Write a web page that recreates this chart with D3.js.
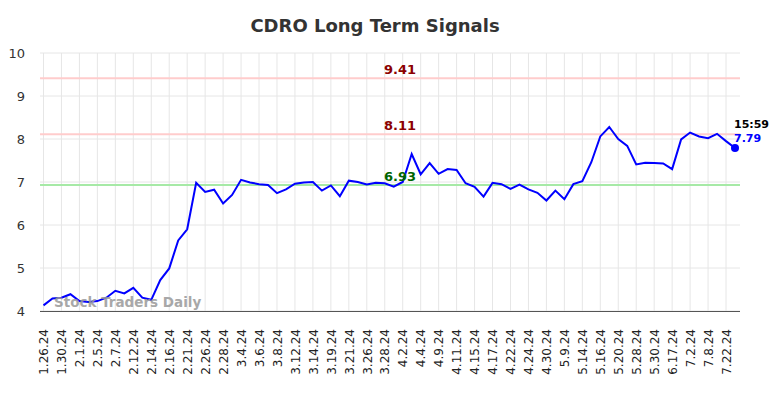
<!DOCTYPE html>
<html>
<head>
    <script src="https://d3js.org/d3.v7.min.js"></script>
    <style>
        body { margin: 0; background: #fff; }
        text { font-family: "DejaVu Sans", sans-serif; }
    </style>
</head>
<body>
    <div id="chart"></div>

    <script>
        // tick labels, one for every second point
        const tickLabels = ["1.26.24", "1.30.24", "2.1.24", "2.5.24", "2.7.24", "2.12.24", "2.14.24",
            "2.16.24", "2.21.24", "2.26.24", "2.28.24", "3.4.24", "3.6.24", "3.8.24", "3.12.24",
            "3.14.24", "3.19.24", "3.21.24", "3.26.24", "3.28.24", "4.2.24", "4.4.24", "4.9.24",
            "4.11.24", "4.15.24", "4.17.24", "4.22.24", "4.24.24", "4.30.24", "5.9.24", "5.14.24",
            "5.16.24", "5.20.24", "5.28.24", "5.30.24", "6.17.24", "7.2.24", "7.8.24", "7.22.24"];

        // closing values
        const prices = [4.13, 4.29, 4.31, 4.39, 4.23, 4.21, 4.23, 4.31, 4.47, 4.41,
            4.54, 4.31, 4.26, 4.72, 4.99, 5.64, 5.90, 6.98, 6.77, 6.82,
            6.50, 6.70, 7.05, 6.99, 6.95, 6.93, 6.74, 6.83, 6.96, 6.99,
            7.00, 6.80, 6.92, 6.67, 7.03, 7.00, 6.94, 6.98, 6.97, 6.89,
            7.00, 7.65, 7.18, 7.44, 7.19, 7.30, 7.28, 6.97, 6.89, 6.66,
            6.98, 6.95, 6.84, 6.94, 6.83, 6.75, 6.57, 6.80, 6.60, 6.95,
            7.02, 7.46, 8.06, 8.28, 8.00, 7.84, 7.41, 7.45, 7.44, 7.43,
            7.30, 7.99, 8.15, 8.06, 8.02, 8.12, 7.95, 7.79];

        const yTicks = [4, 5, 6, 7, 8, 9, 10];

        // signal levels
        const signalValues = [9.41, 8.11, 6.93];
        const signalColors = ["#ffcccc", "#ffcccc", "#a6e9a6"];
        const signalTextColors = ["#8b0000", "#8b0000", "#006400"];

        const lastTime = "15:59";
        const title = "CDRO Long Term Signals";
        const watermark = "Stock Traders Daily";

        const width = 784, height = 398;
        const plotLeft = 40, plotRight = 740, plotTop = 53, plotBottom = 311;

        const svg = d3.select("#chart").append("svg")
            .attr("width", width)
            .attr("height", height);

        const x = d3.scalePoint()
            .domain(d3.range(prices.length))
            .range([43.5, 735]);

        const y = d3.scaleLinear()
            .domain([4, 10])
            .range([plotBottom, plotTop]);

        // title
        svg.append("text")
            .attr("x", 375)
            .attr("y", 32)
            .attr("text-anchor", "middle")
            .attr("font-size", 18)
            .attr("font-weight", "bold")
            .attr("fill", "#333")
            .text(title);

        // grid
        const tickIdx = tickLabels.map((d, i) => i * 2);
        svg.append("g").selectAll("line")
            .data(tickIdx)
            .join("line")
            .attr("x1", d => x(d)).attr("x2", d => x(d))
            .attr("y1", plotTop).attr("y2", plotBottom)
            .attr("stroke", "#e6e6e6");

        svg.append("g").selectAll("line")
            .data(yTicks)
            .join("line")
            .attr("x1", plotLeft).attr("x2", plotRight)
            .attr("y1", d => y(d)).attr("y2", d => y(d))
            .attr("stroke", "#e6e6e6");

        // y axis labels
        svg.append("g").selectAll("text")
            .data(yTicks)
            .join("text")
            .attr("x", 25)
            .attr("y", d => y(d) + 4.5)
            .attr("text-anchor", "end")
            .attr("font-size", 13)
            .attr("fill", "#333")
            .text(d => d);

        // x axis
        const xAxis = svg.append("g")
            .attr("transform", `translate(0,${plotBottom})`)
            .call(d3.axisBottom(x)
                .tickValues(tickIdx)
                .tickFormat(d => tickLabels[d / 2])
                .tickSize(0));
        xAxis.select(".domain")
            .attr("d", `M${plotLeft},0.5H${plotRight}`)
            .attr("stroke", "#555");
        xAxis.selectAll("text")
            .attr("transform", "rotate(-90)")
            .attr("text-anchor", "end")
            .attr("x", -18)
            .attr("y", 0)
            .attr("dy", "0.35em")
            .attr("font-family", "DejaVu Sans")
            .attr("font-size", 12)
            .attr("fill", "#222");

        // signal lines
        svg.append("g").selectAll("line")
            .data(signalValues)
            .join("line")
            .attr("x1", plotLeft).attr("x2", plotRight)
            .attr("y1", d => y(d)).attr("y2", d => y(d))
            .attr("stroke", (d, i) => signalColors[i])
            .attr("stroke-width", 2);

        // price line
        const line = d3.line()
            .x((d, i) => x(i))
            .y(d => y(d));

        svg.append("path")
            .datum(prices)
            .attr("d", line)
            .attr("fill", "none")
            .attr("stroke", "#0000ff")
            .attr("stroke-width", 2);

        // signal labels
        svg.append("g").selectAll("text")
            .data(signalValues)
            .join("text")
            .attr("x", 400)
            .attr("y", d => y(d) - 4)
            .attr("text-anchor", "middle")
            .attr("font-size", 13)
            .attr("font-weight", "bold")
            .attr("fill", (d, i) => signalTextColors[i])
            .text(d => d.toFixed(2));

        // watermark
        svg.append("text")
            .attr("x", 54)
            .attr("y", 307)
            .attr("font-size", 13.5)
            .attr("font-weight", "bold")
            .attr("fill", "#999")
            .attr("opacity", 0.85)
            .text(watermark);

        const lastI = prices.length - 1;
        svg.append("circle")
            .attr("cx", x(lastI))
            .attr("cy", y(prices[lastI]))
            .attr("r", 4)
            .attr("fill", "#0000ff");

        svg.append("text")
            .attr("x", 734)
            .attr("y", 128)
            .attr("font-size", 11)
            .attr("font-weight", "bold")
            .attr("fill", "#000")
            .text(lastTime);

        svg.append("text")
            .attr("x", 734)
            .attr("y", 142)
            .attr("font-size", 11)
            .attr("font-weight", "bold")
            .attr("fill", "#0000ff")
            .text(prices[lastI].toFixed(2));
    </script>
</body>
</html>
